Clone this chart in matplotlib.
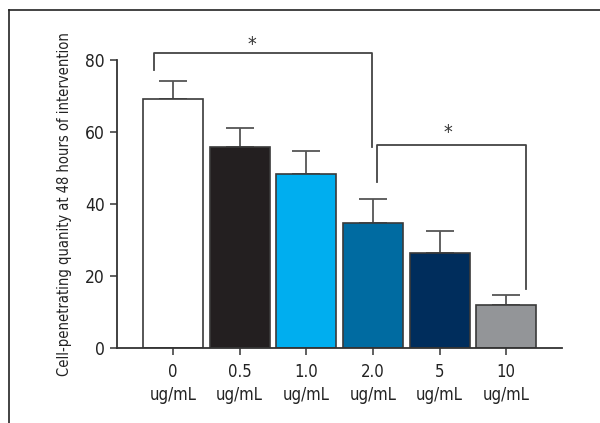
import matplotlib
matplotlib.use("Agg")
import matplotlib.pyplot as plt
from matplotlib.lines import Line2D

categories = ["0\nug/mL", "0.5\nug/mL", "1.0\nug/mL", "2.0\nug/mL", "5\nug/mL", "10\nug/mL"]
values = [69.2, 55.8, 48.4, 34.7, 26.3, 12.1]
err_upper = [74.2, 61.1, 54.7, 41.4, 32.5, 14.7]
errors = [u - v for u, v in zip(err_upper, values)]
colors = ["#ffffff", "#231f20", "#00aeef", "#006ba1", "#002d5c", "#939598"]
yticks = [0, 20, 40, 60, 80]

plt.rcParams['font.family'] = ['DejaVu Sans']
plt.rcParams['font.stretch'] = 'condensed'

fig = plt.figure(figsize=(6, 4.23), dpi=100)
ax = fig.add_axes([0.195, 0.177, 0.742, 0.681])

x = list(range(len(categories)))
ax.bar(x, values, width=0.9, color=colors, edgecolor="#3a3a3a", linewidth=1.2, zorder=2)
ax.errorbar(x, values, yerr=[[0]*len(errors), errors], fmt="none", ecolor="#555555",
            elinewidth=1.3, capsize=10, capthick=1.3, zorder=1)

ax.set_xlim(-0.84, 5.84)
ax.set_ylim(0, 80)
ax.set_xticks(x)
ax.set_xticklabels(categories, fontsize=12, color="#222222", linespacing=1.3)
ax.set_yticks(yticks)
ax.set_yticklabels([str(t) for t in yticks], fontsize=12.5, color="#222222")
ax.tick_params(axis="both", direction="out", length=5, width=1.2, color="#444444", pad=4)
ax.tick_params(axis="x", pad=6)
for s in ["top", "right"]:
    ax.spines[s].set_visible(False)
for s in ["left", "bottom"]:
    ax.spines[s].set_color("#333333")
    ax.spines[s].set_linewidth(1.3)

ax.set_ylabel("Cell-penetrating quanity at 48 hours of intervention", fontsize=10.5,
              color="#222222", labelpad=9)

# significance brackets
bc = "#444444"
ax.plot([-0.29, -0.29, 2.99, 2.99], [77.2, 81.9, 81.9, 55.8], color=bc, lw=1.3, clip_on=False)
ax.text(1.18, 84.2, "*", ha="center", va="center", fontsize=14, color="#333333")
ax.plot([3.06, 3.06, 5.3, 5.3], [46.1, 56.4, 56.4, 16.4], color=bc, lw=1.3, clip_on=False)
ax.text(4.13, 59.8, "*", ha="center", va="center", fontsize=14, color="#333333")

# outer frame (partial box)
fig.add_artist(Line2D([9/600, 9/600], [0, 1 - 10/423], transform=fig.transFigure, color="#222222", lw=1.2))
fig.add_artist(Line2D([9/600, 1], [1 - 10/423, 1 - 10/423], transform=fig.transFigure, color="#222222", lw=1.2))

fig.savefig("out.png", dpi=100)
